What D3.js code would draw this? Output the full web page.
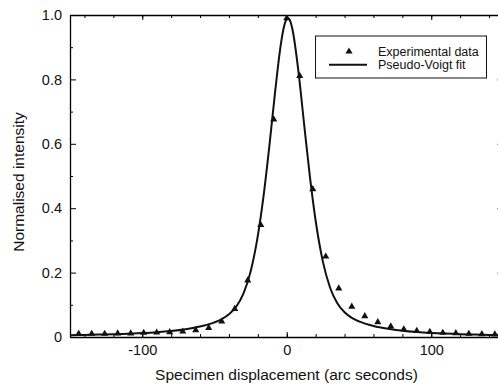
<!DOCTYPE html>
<html>
<head>
<meta charset="utf-8">
<script src="https://cdn.jsdelivr.net/npm/d3@7"></script>
<style>
  body { margin: 0; background: #fff; }
  svg { display: block; font-family: "Liberation Sans", Arial, sans-serif; }
</style>
</head>
<body>
<svg id="chart" width="498" height="384"></svg>
<script>
"use strict";

// measured points (arc seconds / normalised intensity)
const dataX = [-144, -135, -126, -117, -108, -99, -90, -81, -72, -63, -54, -45, -36, -27, -18, -9,
    0, 9, 18, 27, 36, 45, 54, 63, 72, 81, 90, 99, 108, 117, 126, 135, 144]
const dataY = [0.010, 0.010, 0.010, 0.011, 0.011, 0.013, 0.014, 0.015, 0.017, 0.021, 0.028, 0.048, 0.087, 0.176, 0.348, 0.676,
    0.990, 0.811, 0.459, 0.250, 0.151, 0.094, 0.065, 0.046, 0.033, 0.024, 0.019, 0.016, 0.013, 0.012, 0.010, 0.009, 0.008]

// fitted curve
const fitX = [-150, -140, -130, -120, -110, -100, -90, -80, -70, -60, -50, -45, -40, -35, -30, -25, -20, -16, -12, -8,
    -4, -2, 0, 1, 2, 4, 8, 12, 16, 20, 25, 30, 35, 40, 45, 50, 60, 70, 80, 90, 100, 110, 120, 130, 140, 150]
const fitY = [0.0055, 0.0064, 0.0074, 0.0086, 0.0102, 0.0123, 0.015, 0.0188, 0.0243, 0.0324, 0.0455, 0.0555, 0.0704, 0.094, 0.1346, 0.2037, 0.315, 0.44, 0.5946, 0.7634,
    0.9118, 0.962, 0.9877, 0.99, 0.985, 0.954, 0.828, 0.6618, 0.4988, 0.361, 0.2341, 0.153, 0.1048, 0.0767, 0.0596, 0.0484, 0.0341, 0.0254, 0.0196, 0.0156,
    0.0127, 0.0105, 0.0088, 0.0075, 0.0065, 0.0057]

const xMajor = [-100, 0, 100]
const xMinor = d3.range(-140, 141, 20)
const yMajor = [0, 0.2, 0.4, 0.6, 0.8, 1.0]
const yMinor = [0.1, 0.3, 0.5, 0.7, 0.9]

const legendLabels = ["Experimental data", "Pseudo-Voigt fit"]

const plotLeft = 70, plotRight = 503.5, plotTop = 15, plotBottom = 337

const x = d3.scaleLinear().domain([-150, 150]).range([plotLeft, plotRight])
const y = d3.scaleLinear().domain([0, 1]).range([plotBottom, plotTop])

const svg = d3.select("#chart")

svg.append("defs").append("clipPath").attr("id", "clip")
    .append("rect").attr("x", plotLeft).attr("y", plotTop)
    .attr("width", plotRight - plotLeft).attr("height", plotBottom - plotTop)

const yFmt = d => d === 0 ? "0" : d3.format(".1f")(d)
const xFmt = d => String(d)   // plain hyphen like the original

function styleAxis(g) {
    g.selectAll("path").attr("stroke", "#000").attr("stroke-width", 1.3)
    g.selectAll("line").attr("stroke", "#000").attr("stroke-width", 1)
    g.selectAll("text").attr("fill", "#111").style("font-size", "14.5px")
}

// bottom
svg.append("g").attr("transform", `translate(0,${plotBottom})`)
    .call(d3.axisBottom(x).tickValues(xMinor).tickSize(-3).tickSizeOuter(0).tickFormat(""))
    .call(styleAxis)
svg.append("g").attr("transform", `translate(0,${plotBottom})`)
    .call(d3.axisBottom(x).tickValues(xMajor).tickSize(-5).tickSizeOuter(0).tickPadding(8).tickFormat(xFmt))
    .call(styleAxis)
    .call(g => g.select(".domain").remove())
// top
svg.append("g").attr("transform", `translate(0,${plotTop})`)
    .call(d3.axisTop(x).tickValues(xMinor).tickSize(-3).tickSizeOuter(0).tickFormat(""))
    .call(styleAxis)
svg.append("g").attr("transform", `translate(0,${plotTop})`)
    .call(d3.axisTop(x).tickValues(xMajor).tickSize(-5).tickSizeOuter(0).tickFormat(""))
    .call(styleAxis)
    .call(g => g.select(".domain").remove())
// left
svg.append("g").attr("transform", `translate(${plotLeft},0)`)
    .call(d3.axisLeft(y).tickValues(yMinor).tickSize(-3).tickSizeOuter(0).tickFormat(""))
    .call(styleAxis)
svg.append("g").attr("transform", `translate(${plotLeft},0)`)
    .call(d3.axisLeft(y).tickValues(yMajor).tickSize(-6).tickSizeOuter(0).tickPadding(8).tickFormat(yFmt))
    .call(styleAxis)
    .call(g => g.select(".domain").remove())
// right
svg.append("g").attr("transform", `translate(${plotRight},0)`)
    .call(d3.axisRight(y).tickValues(yMinor).tickSize(-3).tickSizeOuter(0).tickFormat(""))
    .call(styleAxis)
svg.append("g").attr("transform", `translate(${plotRight},0)`)
    .call(d3.axisRight(y).tickValues(yMajor).tickSize(-6).tickSizeOuter(0).tickFormat(""))
    .call(styleAxis)
    .call(g => g.select(".domain").remove())

const plot = svg.append("g").attr("clip-path", "url(#clip)")

const line = d3.line()
    .x(i => x(fitX[i]))
    .y(i => y(fitY[i]))
    .curve(d3.curveMonotoneX)

plot.append("path")
    .attr("d", line(d3.range(fitX.length)))
    .attr("fill", "none")
    .attr("stroke", "#111")
    .attr("stroke-width", 2)

const tri = d3.symbol().type(d3.symbolTriangle).size(22)
plot.selectAll(".pt")
    .data(dataX)
    .join("path")
    .attr("class", "pt")
    .attr("d", tri)
    .attr("transform", (d, i) => `translate(${x(d)},${y(dataY[i])})`)
    .attr("fill", "#111")

// axis titles
svg.append("text")
    .attr("x", 286.5).attr("y", 380)
    .attr("text-anchor", "middle")
    .style("font-size", "15.5px").attr("fill", "#111")
    .text("Specimen displacement (arc seconds)")
svg.append("text")
    .attr("transform", "translate(24,182) rotate(-90)")
    .attr("text-anchor", "middle")
    .style("font-size", "15.5px").attr("fill", "#111")
    .text("Normalised intensity")

// legend
const legend = svg.append("g")
legend.append("rect")
    .attr("x", 315.5).attr("y", 36).attr("width", 171).attr("height", 42)
    .attr("fill", "#fff").attr("stroke", "#111").attr("stroke-width", 1)
legend.append("path")
    .attr("d", tri)
    .attr("transform", "translate(349,51.5)")
    .attr("fill", "#111")
legend.append("line")
    .attr("x1", 329).attr("x2", 367).attr("y1", 64.7).attr("y2", 64.7)
    .attr("stroke", "#111").attr("stroke-width", 2)
legend.selectAll(".lbl")
    .data(legendLabels)
    .join("text")
    .attr("class", "lbl")
    .attr("x", 378)
    .attr("y", (d, i) => 55.5 + i * 13)
    .style("font-size", "12.5px").attr("fill", "#111")
    .text(d => d)
</script>
</body>
</html>
